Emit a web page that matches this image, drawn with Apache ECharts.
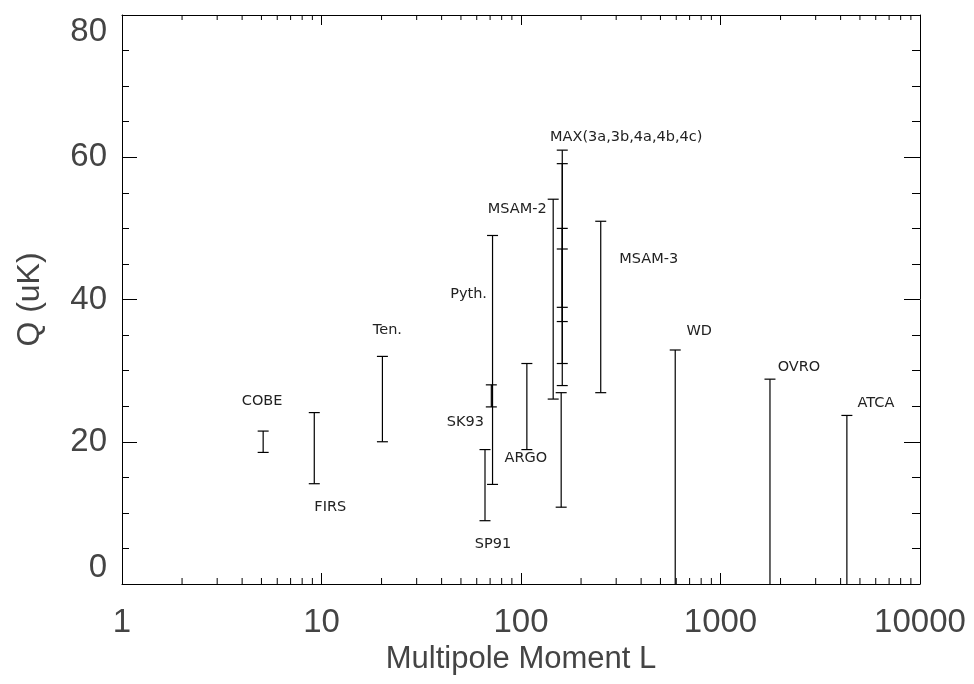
<!DOCTYPE html>
<html>
<head>
<meta charset="utf-8">
<script src="https://cdn.jsdelivr.net/npm/echarts@6/dist/echarts.min.js"></script>
<style>html,body{margin:0;padding:0;background:#fff}#c{width:974px;height:684px}</style>
</head>
<body>
<div id="c"></div>
<script>
// ---- data ----
const experiments = ['COBE','FIRS','Ten.','SK93','SP91','Pyth.','ARGO','MSAM-2','MAX(3a,3b,4a,4b,4c)','','','','','MSAM-3','WD','OVRO','ATCA'];
const multipoleL  = [5.1, 9.2, 20.2, 71, 66, 72, 107, 145, 161, 161, 161, 161, 159, 251, 593, 1770, 4300];
const qLow        = [18.5, 14.1, 20.0, 24.9, 8.9, 14.0, 18.9, 26.0, 31.0, 36.9, 27.9, 38.9, 10.8, 26.9, 0, 0, 0];
const qHigh       = [21.5, 24.1, 32.0, 28.0, 18.9, 49.0, 31.0, 54.1, 61.0, 59.1, 50.0, 47.1, 26.9, 51.0, 32.9, 28.8, 23.7];
const upperLimitOnly = [false,false,false,false,false,false,false,false,false,false,false,false,false,false,true,true,true];
const xTickLabels = ['1','10','100','1000','10000'];
const yTicks = [0, 20, 40, 60, 80];

// ---- layout (pixel offsets of labels from the top of each bar) ----
const labelDx = [-1, 16, 5, -26, 8, -24, -1, -36, 64, 0, 0, 0, 0, 48, 24, 29, 29];
const labelDy = [-30, 95, -26, 37, 95, 59, 95, 10, -13, 0, 0, 0, 0, 38, -19, -12, -12];

const minorX = [];
[1, 10, 100, 1000].forEach(d => { for (let k = 2; k <= 9; k++) minorX.push(d * k); });

const chart = echarts.init(document.getElementById('c'), null, {renderer: 'canvas'});
const black = '#000';
const txt = '#222';

const barData = multipoleL.map((L, i) => [L, qLow[i], qHigh[i], upperLimitOnly[i] ? 0 : 1]);

function renderBar(params, api) {
  const i = params.dataIndex;
  const L = api.value(0), lo = api.value(1), hi = api.value(2), cap = api.value(3);
  const pt = api.coord([L, hi]);
  const pb = api.coord([L, lo]);
  const w = 5.5;
  const ls = {stroke: black, lineWidth: 1.2};
  const ch = [
    {type: 'line', shape: {x1: pt[0], y1: pt[1], x2: pb[0], y2: pb[1]}, style: ls},
    {type: 'line', shape: {x1: pt[0] - w, y1: pt[1], x2: pt[0] + w, y2: pt[1]}, style: ls}
  ];
  if (cap) ch.push({type: 'line', shape: {x1: pb[0] - w, y1: pb[1], x2: pb[0] + w, y2: pb[1]}, style: ls});
  if (experiments[i]) {
    ch.push({type: 'text', x: pt[0] + labelDx[i], y: pt[1] + labelDy[i],
      style: {text: experiments[i], fill: txt, fontSize: 14.5, fontFamily: 'DejaVu Sans', align: 'center', verticalAlign: 'middle'}});
  }
  return {type: 'group', children: ch};
}

function renderMinor(params, api) {
  const v = api.value(0);
  const b = api.coord([v, 0]);
  const t = api.coord([v, 80]);
  const ls = {stroke: black, lineWidth: 1};
  return {type: 'group', children: [
    {type: 'line', shape: {x1: b[0], y1: b[1], x2: b[0], y2: b[1] - 6}, style: ls},
    {type: 'line', shape: {x1: t[0], y1: t[1], x2: t[0], y2: t[1] + 5}, style: ls}
  ]};
}

const axisFont = {fontSize: 33, color: '#444', fontFamily: 'Liberation Sans'};

chart.setOption({
  backgroundColor: '#fff',
  animation: false,
  grid: {left: 122, right: 54, top: 15, bottom: 100, containLabel: false},
  xAxis: [{
    type: 'log', logBase: 10, min: 1, max: 10000, position: 'bottom',
    axisLine: {onZero: false, lineStyle: {color: black, width: 1}},
    axisTick: {inside: true, length: 11, lineStyle: {color: black}},
    axisLabel: Object.assign({margin: 22, formatter: v => xTickLabels[Math.round(Math.log10(v))] || ''}, axisFont),
    splitLine: {show: false},
    name: 'Multipole Moment L', nameLocation: 'middle', nameGap: 57,
    nameTextStyle: {fontSize: 31, color: '#444', fontFamily: 'Liberation Sans'}
  }, {
    type: 'log', logBase: 10, min: 1, max: 10000, position: 'top',
    axisLine: {onZero: false, lineStyle: {color: black, width: 1}},
    axisTick: {inside: true, length: 10, lineStyle: {color: black}},
    axisLabel: {show: false}, splitLine: {show: false}
  }],
  yAxis: [{
    type: 'value', min: yTicks[0], max: yTicks[yTicks.length - 1], interval: 20, position: 'left',
    axisLine: {show: true, lineStyle: {color: black, width: 1}},
    axisTick: {show: true, inside: true, length: 15, lineStyle: {color: black}},
    minorTick: {show: true, splitNumber: 4, length: 7, lineStyle: {color: black}},
    axisLabel: Object.assign({margin: 15, verticalAlignMaxLabel: 'top', verticalAlignMinLabel: 'bottom'}, axisFont),
    splitLine: {show: false},
    name: 'Q (uK)', nameLocation: 'middle', nameGap: 76, nameRotate: 90,
    nameTextStyle: {fontSize: 32, color: '#444', fontFamily: 'Liberation Sans'}
  }, {
    type: 'value', min: yTicks[0], max: yTicks[yTicks.length - 1], interval: 20, position: 'right',
    axisLine: {show: true, lineStyle: {color: black, width: 1}},
    axisTick: {show: true, inside: true, length: 16, lineStyle: {color: black}},
    minorTick: {show: true, splitNumber: 4, length: 8, lineStyle: {color: black}},
    axisLabel: {show: false}, splitLine: {show: false}
  }],
  series: [{
    type: 'custom', xAxisIndex: 0, yAxisIndex: 0, silent: true, clip: false,
    data: minorX.map(v => [v, 0]), encode: {x: 0, y: 1}, renderItem: renderMinor
  }, {
    type: 'custom', xAxisIndex: 0, yAxisIndex: 0, silent: true, clip: false,
    data: barData, encode: {x: 0, y: [1, 2]}, renderItem: renderBar
  }]
});
</script>
</body>
</html>
